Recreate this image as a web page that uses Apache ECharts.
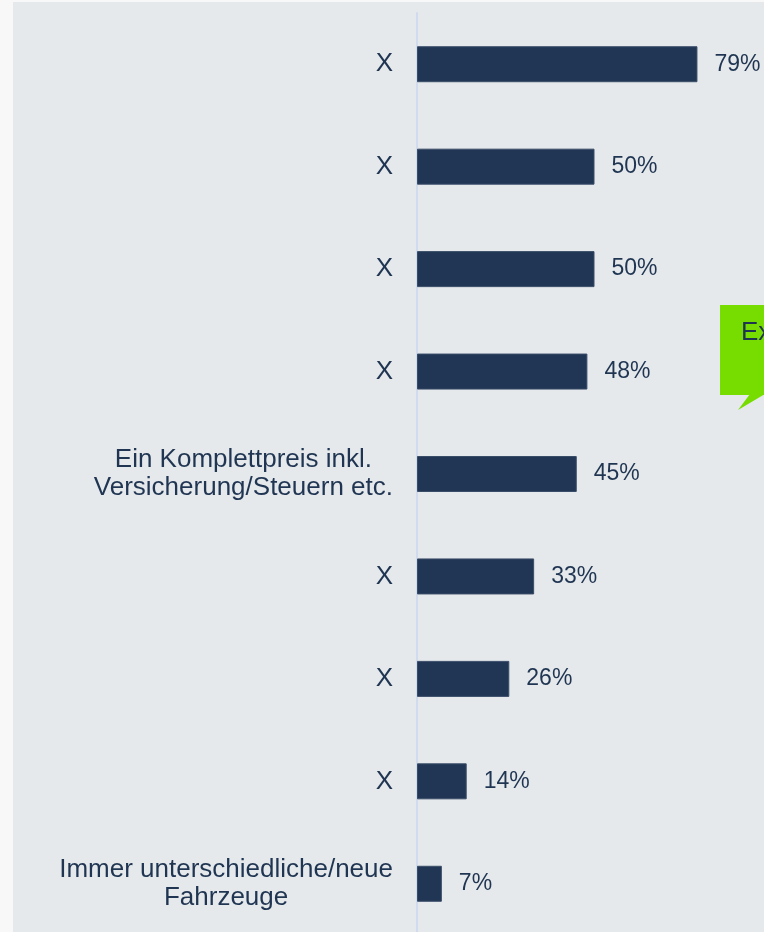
<!DOCTYPE html>
<html>
<head>
<meta charset="utf-8">
<script src="https://cdn.jsdelivr.net/npm/echarts@6/dist/echarts.min.js"></script>
<style>
  html, body { margin: 0; padding: 0; background: #f8f8f8; overflow: hidden; width: 764px; height: 932px; }
  #chart { position: absolute; left: 13px; top: 2px; width: 759px; height: 935px; }
</style>
</head>
<body>
<div id="chart"></div>
<script>
var categories = [
	'X',
	'X',
	'X',
	'X',
	'Ein Komplettpreis inkl.\nVersicherung/Steuern etc.',
	'X',
	'X',
	'X',
	'Immer unterschiedliche/neue\nFahrzeuge'
];
var values = [79, 50, 50, 48, 45, 33, 26, 14, 7];
var calloutText = 'Ex';

var textColor = '#1f3552';
var fontFam = '"Liberation Sans", Arial, sans-serif';

var myChart = echarts.init(document.getElementById('chart'));

var option = {
	backgroundColor: '#e6e9ec',
	animation: false,
	textStyle: { fontFamily: fontFam },
	grid: {
		left: 404,
		top: 11,
		right: 0,
		bottom: 2,
		containLabel: false
	},
	xAxis: {
		type: 'value',
		min: 0,
		max: 100,
		show: false
	},
	yAxis: {
		type: 'category',
		inverse: true,
		data: categories,
		axisLine: { show: true, lineStyle: { color: '#d0dcee', width: 2 } },
		axisTick: { show: false },
		splitLine: { show: false },
		axisLabel: {
			margin: 24,
			align: 'right',
			fontSize: 26,
			color: textColor,
			fontFamily: fontFam,
			formatter: function (v) {
				return v.split('\n').map(function (s) { return '{c|' + s + '}'; }).join('\n');
			},
			rich: {
				c: { align: 'center', fontSize: 26, lineHeight: 28, color: textColor, fontFamily: fontFam }
			}
		}
	},
	series: [
		{
			type: 'bar',
			data: values,
			barWidth: 36,
			itemStyle: { color: '#203654', borderColor: '#3a4d68', borderWidth: 1 },
			label: {
				show: true,
				position: 'right',
				distance: 17,
				fontSize: 23,
				color: textColor,
				fontFamily: fontFam,
				formatter: '{c}%'
			}
		}
	],
	graphic: [
		{
			type: 'rect',
			shape: { x: 707, y: 303, width: 60, height: 90 },
			style: { fill: '#77dd00' },
			z: 10
		},
		{
			type: 'polygon',
			shape: { points: [[737, 392], [752, 392], [725, 408]] },
			style: { fill: '#77dd00' },
			z: 10
		},
		{
			type: 'text',
			x: 728,
			y: 331,
			style: {
				text: calloutText,
				fontSize: 26,
				fill: textColor,
				fontFamily: fontFam,
				verticalAlign: 'middle'
			},
			z: 11
		}
	]
};
myChart.setOption(option);
</script>
</body>
</html>
